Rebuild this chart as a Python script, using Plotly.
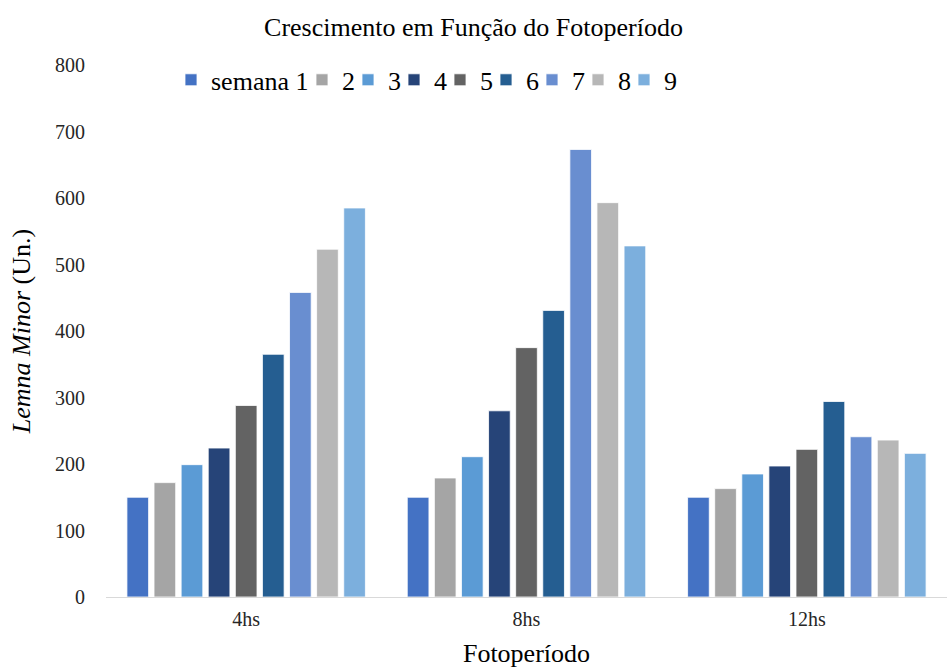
import plotly.graph_objects as go

categories = ["4hs", "8hs", "12hs"]
series_names = ["semana 1", "2", "3", "4", "5", "6", "7", "8", "9"]
semana1 = [150, 150, 150]
semana2 = [172, 179, 163]
semana3 = [199, 211, 185]
semana4 = [224, 280, 197]
semana5 = [288, 375, 222]
semana6 = [365, 431, 294]
semana7 = [458, 673, 241]
semana8 = [523, 593, 236]
semana9 = [585, 528, 216]
values = [semana1, semana2, semana3, semana4, semana5, semana6, semana7, semana8, semana9]
colors = ["#4472C4", "#A5A5A5", "#5B9BD5", "#264478", "#636363",
          "#255E91", "#698ED0", "#B7B7B7", "#7CAFDD"]

FONT = "Liberation Serif"
PLOT_LEFT, PLOT_W = 106, 841

# one small legend box per entry so the entries can sit as tightly as in the original
legend_ids = ["legend"] + [f"legend{k}" for k in range(2, len(series_names) + 1)]
legend_left_px = [171] + [302 + 46 * k for k in range(len(series_names) - 1)]

fig = go.Figure()
for name, vals, col, lg in zip(series_names, values, colors, legend_ids):
    fig.add_trace(go.Bar(
        x=categories, y=vals, name=name, legend=lg, showlegend=True,
        marker=dict(color=col, line=dict(color="rgba(255,255,255,0.8)", width=1)),
    ))

legend_common = dict(orientation="h", yanchor="middle", y=0.972, itemwidth=30,
                     traceorder="normal", bgcolor="rgba(0,0,0,0)", xanchor="left",
                     font=dict(family=FONT, size=26, color="#000000"))
legend_layout = {lg: dict(x=(px - PLOT_LEFT) / PLOT_W, **legend_common)
                 for lg, px in zip(legend_ids, legend_left_px)}

fig.update_layout(
    width=947, height=668, showlegend=True,
    barmode="group", bargap=0.13, bargroupgap=0.2,
    paper_bgcolor="white", plot_bgcolor="white",
    margin=dict(l=PLOT_LEFT, r=0, t=65, b=71, autoexpand=False),
    font=dict(family=FONT, size=20, color="#262626"),
    title=dict(text="Crescimento em Função do Fotoperíodo", x=0.5, xanchor="center",
               y=1 - 27 / 668, yanchor="middle", font=dict(family=FONT, size=26, color="#000000")),
    xaxis=dict(showline=True, linecolor="#D9D9D9", linewidth=1, ticks="", automargin=False,
               ticklabelstandoff=4,
               tickfont=dict(family=FONT, size=20, color="#262626"),
               title=dict(text="Fotoperíodo", font=dict(family=FONT, size=26, color="#000000"),
                          standoff=14)),
    yaxis=dict(range=[0, 800], dtick=100, showgrid=False, zeroline=False, showline=False,
               ticks="", ticklabelstandoff=20, automargin=False,
               tickfont=dict(family=FONT, size=20, color="#262626"),
               title=dict(text="<i>Lemna Minor</i> (Un.)",
                          font=dict(family=FONT, size=26, color="#000000"), standoff=16)),
    **legend_layout,
)

fig.write_html("out.html", config={"displayModeBar": False},
               post_script="document.body.style.margin='0';")
